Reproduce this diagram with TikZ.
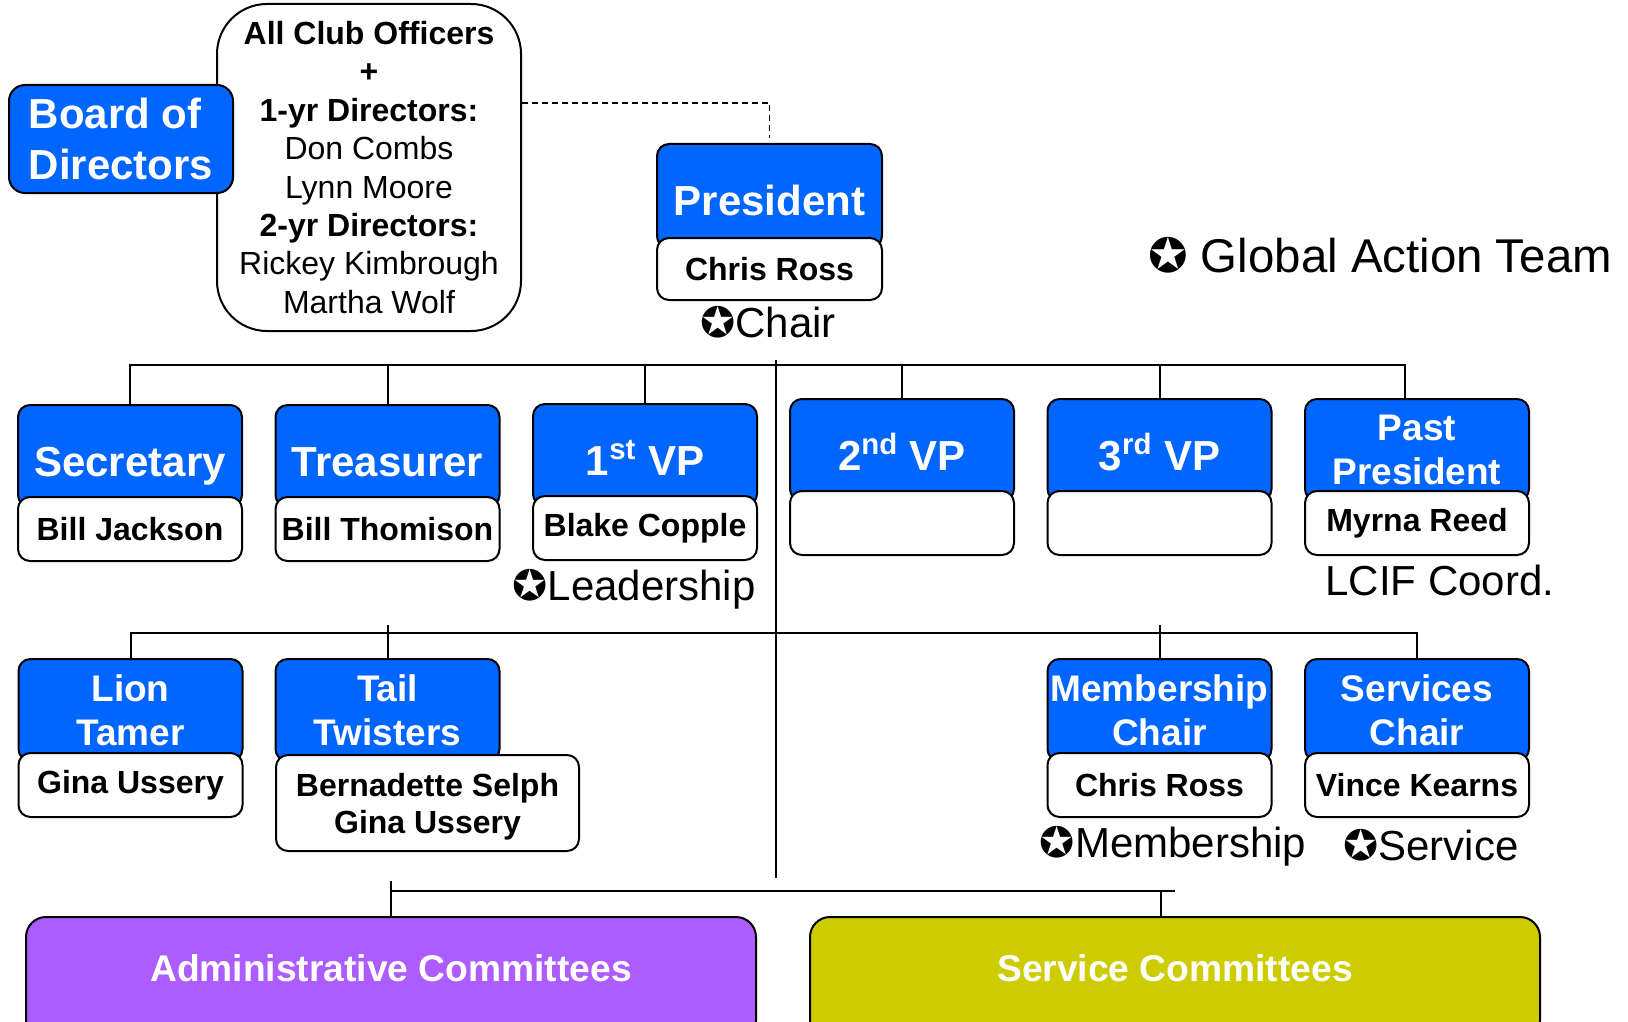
\documentclass[tikz,border=0pt]{standalone}
\usepackage{fontspec}
\setmainfont{Liberation Sans}
\newfontfamily\starfont{DejaVu Sans}
\definecolor{lionblue}{RGB}{0,102,255}
\definecolor{adminpurple}{RGB}{172,92,255}
\definecolor{svcyellow}{RGB}{204,204,0}
\newcommand{\gstar}{{\starfont ✪}}
\tikzset{
	headbox/.style={draw, line width=1pt, fill=lionblue, text=white, rounded corners=6pt, minimum width=112pt, minimum height=51pt, inner sep=0pt, text height=35.5pt, text depth=15.5pt, align=center, anchor=north, font=\fontsize{21}{25}\selectfont\bfseries},
	headtwo/.style={headbox, text height=, text depth=, font=\fontsize{18.5}{22}\selectfont\bfseries},
	namebox/.style={draw, line width=1pt, fill=white, rounded corners=6pt, minimum width=112pt, minimum height=32pt, inner sep=0pt, align=center, anchor=north, font=\fontsize{16}{18.5}\selectfont\bfseries},
	gatnote/.style={inner sep=0pt, font=\fontsize{21}{25}\selectfont},
	wire/.style={line width=1pt},
	committee/.style={draw, line width=1pt, rounded corners=10pt, text=white, minimum width=365pt, inner sep=0pt, text height=32pt, text depth=30pt, anchor=north, font=\fontsize{18.6}{22}\selectfont\bfseries}
}
\begin{document}
\begin{tikzpicture}[x=0.5pt, y=-0.5pt]
	\useasboundingbox (0,0) rectangle (1628,1022);
	\clip (0,0) rectangle (1628,1022);
	\node[draw, line width=1pt, rounded corners=25pt, minimum width=152pt, minimum height=163.5pt, inner sep=0pt, align=center, font=\fontsize{16}{19.2}\selectfont] (officers) at (369,167.5) {\textbf{All Club Officers}\\\textbf{+}\\\textbf{1-yr Directors:}\\Don Combs\\Lynn Moore\\\textbf{2-yr Directors:}\\Rickey Kimbrough\\Martha Wolf};
	\node[draw, line width=1pt, fill=lionblue, text=white, rounded corners=8pt, minimum width=112pt, minimum height=54pt, inner sep=0pt, align=left, font=\fontsize{21}{25.5}\selectfont\bfseries] (board) at (121,139) {Board of\\Directors};
	\node[headbox, minimum width=112.5pt, minimum height=52pt, text depth=16.5pt] (pres) at (769.5,143) {President};
	\node[namebox, minimum width=112.5pt, minimum height=31pt] (presname) at (769.5,237) {Chris Ross};
	\node[gatnote] (chair) at (768,322) {\gstar Chair};
	\node[gatnote, font=\fontsize{23.7}{28}\selectfont] (gat) at (1380,255) {\gstar\ Global Action Team};
	\coordinate (dashturn) at (769.5,103);
	\draw[line width=0.9pt, dash pattern=on 3pt off 2pt, shorten >=2.5pt] (officers.east |- dashturn) -- (dashturn) -- (pres.north);

	\node[headbox] (sec) at (130,404) {Secretary};
	\node[namebox] (secname) at (130,496) {Bill Jackson};
	\node[headbox] (treas) at (387.5,404) {Treasurer};
	\node[namebox] (treasname) at (387.5,496) {Bill Thomison};
	\node[headbox] (vpone) at (645,403) {1\textsuperscript{st} VP};
	\node[namebox] (vponename) at (645,495) {Blake Copple};
	\node[gatnote] (lead) at (634,589) {\gstar Leadership};
	\node[headbox] (vptwo) at (902,398) {2\textsuperscript{nd} VP};
	\node[namebox] (vptwoname) at (902,490) {};
	\node[headbox] (vpthree) at (1159.5,398) {3\textsuperscript{rd} VP};
	\node[namebox] (vpthreename) at (1159.5,490) {};
	\node[headtwo] (past) at (1417,398) {Past\\President};
	\node[namebox] (pastname) at (1417,490) {Myrna Reed};
	\node[gatnote] (lcif) at (1440,580) {LCIF Coord.};

	\node[headtwo] (lion) at (130.5,658) {Lion\\Tamer};
	\node[namebox] (lionname) at (130.5,752) {Gina Ussery};
	\node[headtwo] (tail) at (387.5,658) {Tail\\Twisters};
	\node[namebox, minimum width=151.5pt, minimum height=48pt, text depth=0pt] (tailname) at (427.5,754) {Bernadette Selph\\Gina Ussery};
	\node[headtwo] (memb) at (1159.5,658) {Membership\\Chair};
	\node[namebox] (membname) at (1159.5,752) {Chris Ross};
	\node[headtwo] (serv) at (1417,658) {Services\\Chair};
	\node[namebox] (servname) at (1417,752) {Vince Kearns};
	\node[gatnote] (membnote) at (1173,846) {\gstar Membership};
	\node[gatnote] (servnote) at (1431,845) {\gstar Service};

	\node[committee, fill=adminpurple] (admin) at (391,916) {Administrative Committees};
	\node[committee, fill=svcyellow] (svc) at (1175,916) {Service Committees};

	\coordinate (barone) at (127,365);
	\coordinate (bartwo) at (137,633);
	\coordinate (barthree) at (393,891);
	\coordinate (spinetop) at (776,360);
	\coordinate (spinebot) at (776,878);
	\draw[wire] (spinetop) -- (spinebot);
	\draw[wire] (sec.north) |- ([xshift=-6pt]past.north |- barone) -- ([xshift=-6pt]past.north);
	\foreach \n in {treas,vpone,vptwo,vpthree} \draw[wire] (\n.north) -- (\n.north |- barone);
	\draw[wire] (lion.north) |- (serv.north |- bartwo) -- (serv.north);
	\foreach \n in {tail,memb} \draw[wire] (\n.north) -- ++(0,-33);
	\draw[wire] (admin.north) -- ++(0,-35);
	\draw[wire] (admin.north |- barthree) -- (svc.north |- barthree);
	\draw[wire] ([xshift=-7pt]svc.north) -- ([xshift=-7pt]svc.north |- barthree);
\end{tikzpicture}
\end{document}
